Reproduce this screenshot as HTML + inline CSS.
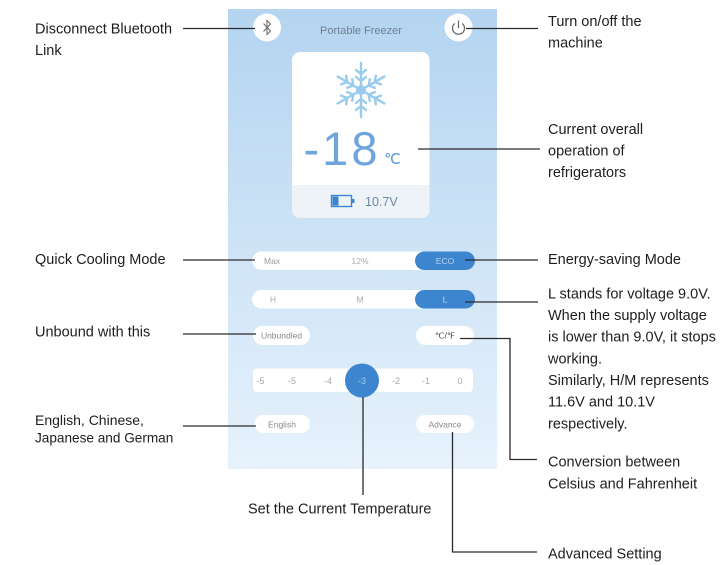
<!DOCTYPE html>
<html>
<head>
<meta charset="utf-8">
<style>
  html,body{margin:0;padding:0;background:#fff;}
  svg{display:block;}
  .lbl{font-family:"Liberation Sans",Arial,sans-serif;font-size:14.5px;fill:#1e1e1e;}
  .ui{font-family:"Liberation Sans",Arial,sans-serif;}
</style>
</head>
<body>
<svg width="728" height="565" viewBox="0 0 728 565" xmlns="http://www.w3.org/2000/svg">
  <defs>
    <linearGradient id="bg" x1="0" y1="0" x2="0" y2="1">
      <stop offset="0" stop-color="#b4d4f0"/>
      <stop offset="0.5" stop-color="#cde3f6"/>
      <stop offset="1" stop-color="#e7f2fc"/>
    </linearGradient>
  </defs>
  <rect x="0" y="0" width="728" height="565" fill="#fff"/>

  <!-- phone panel -->
  <rect x="228" y="9" width="269" height="460" fill="url(#bg)"/>

  <!-- header -->
  <circle cx="267" cy="27.5" r="14" fill="#fff"/>
  <g stroke="#666" stroke-width="1" fill="none">
    <path d="M263.5 23.5 L270.5 31 L267 34.5 L267 20.5 L270.5 24 L263.5 31.5"/>
  </g>
  <circle cx="458.5" cy="27.5" r="14" fill="#fff"/>
  <g stroke="#666" stroke-width="1.2" fill="none">
    <path d="M454.8 23.5 A6 6 0 1 0 462.2 23.5"/>
    <line x1="458.5" y1="20.5" x2="458.5" y2="28"/>
  </g>
  <text x="361" y="34" text-anchor="middle" class="ui" font-size="11" fill="#6d7f92">Portable Freezer</text>

  <!-- card -->
  <rect x="292" y="52" width="137.5" height="166" rx="8" fill="#fff"/>
  <path d="M292 185 H429.5 V210 A8 8 0 0 1 421.5 218 H300 A8 8 0 0 1 292 210 Z" fill="#eef3f8"/>

  <!-- snowflake -->
  <g stroke="#98cbee" stroke-width="2.4" stroke-linecap="round" fill="none" transform="translate(361,90)">
    <g id="arm">
      <line x1="0" y1="0" x2="0" y2="-27"/>
      <path d="M-5 -13 L0 -9 L5 -13"/>
      <path d="M-5 -20 L0 -16 L5 -20"/>
    </g>
    <use href="#arm" transform="rotate(60)"/>
    <use href="#arm" transform="rotate(120)"/>
    <use href="#arm" transform="rotate(180)"/>
    <use href="#arm" transform="rotate(240)"/>
    <use href="#arm" transform="rotate(300)"/>
  </g>
  <circle cx="361" cy="90" r="5" fill="#98cbee"/>

  <!-- temperature -->
  <text x="342" y="165" text-anchor="middle" class="ui" font-size="47" fill="#6ea6dc" letter-spacing="3">-18</text>
  <text x="384" y="164" class="ui" font-size="15" fill="#5d9bd6">℃</text>

  <!-- battery -->
  <rect x="331.5" y="195.5" width="20" height="11" fill="none" stroke="#3d86cf" stroke-width="1.4"/>
  <rect x="332.5" y="196.5" width="6" height="9" fill="#3d86cf"/>
  <rect x="352" y="199" width="2.5" height="4" fill="#3d86cf"/>
  <text x="365" y="206" class="ui" font-size="12.5" fill="#6d88a6">10.7V</text>

  <!-- row 1 -->
  <rect x="252" y="251.5" width="223" height="18.5" rx="9.25" fill="#fff"/>
  <rect x="415" y="251.5" width="60" height="18.5" rx="9.25" fill="#3d86cf"/>
  <text x="264" y="264" class="ui" font-size="8.5" fill="#999">Max</text>
  <text x="360" y="264" text-anchor="middle" class="ui" font-size="8.5" fill="#aaa">12%</text>
  <text x="445" y="264" text-anchor="middle" class="ui" font-size="8.5" fill="#b9d3ee">ECO</text>

  <!-- row 2 -->
  <rect x="252" y="290" width="223" height="18.5" rx="9.25" fill="#fff"/>
  <rect x="415" y="290" width="60" height="18.5" rx="9.25" fill="#3d86cf"/>
  <text x="273" y="302.5" text-anchor="middle" class="ui" font-size="8.5" fill="#aaa">H</text>
  <text x="360" y="302.5" text-anchor="middle" class="ui" font-size="8.5" fill="#aaa">M</text>
  <text x="445" y="302.5" text-anchor="middle" class="ui" font-size="8.5" fill="#b9d3ee">L</text>

  <!-- row 3 -->
  <rect x="253" y="326" width="57" height="19" rx="9.5" fill="#fff"/>
  <text x="281.5" y="338.5" text-anchor="middle" class="ui" font-size="8.5" fill="#888">Unbundled</text>
  <rect x="416" y="326" width="58" height="19" rx="9.5" fill="#fff"/>
  <text x="445" y="338.5" text-anchor="middle" class="ui" font-size="8.5" fill="#444">℃/℉</text>

  <!-- row 4 slider -->
  <rect x="253" y="368.5" width="220" height="23.5" rx="4" fill="#fff"/>
  <g class="ui" font-size="9" fill="#aaa" text-anchor="middle">
    <text x="260.5" y="384">-5</text>
    <text x="292" y="384">-5</text>
    <text x="328" y="384">-4</text>
    <text x="396" y="384">-2</text>
    <text x="426" y="384">-1</text>
    <text x="460" y="384">0</text>
  </g>
  <circle cx="362" cy="380.5" r="17" fill="#3d86cf"/>
  <text x="362" y="384" text-anchor="middle" class="ui" font-size="9" fill="#a8c9ec">-3</text>

  <!-- row 5 -->
  <rect x="254.5" y="415" width="55.5" height="18" rx="9" fill="#fff"/>
  <text x="282" y="427.5" text-anchor="middle" class="ui" font-size="8.5" fill="#888">English</text>
  <rect x="416" y="415" width="58" height="18" rx="9" fill="#fff"/>
  <text x="445" y="427.5" text-anchor="middle" class="ui" font-size="8.5" fill="#888">Advance</text>

  <!-- leader lines -->
  <g stroke="#2a2a2a" stroke-width="1.3" fill="none">
    <line x1="183" y1="28.5" x2="255" y2="28.5"/>
    <line x1="466" y1="28.5" x2="538" y2="28.5"/>
    <line x1="418" y1="149" x2="540" y2="149"/>
    <line x1="183" y1="260" x2="255" y2="260"/>
    <line x1="465" y1="260" x2="538" y2="260"/>
    <line x1="465" y1="302" x2="538" y2="302"/>
    <line x1="183" y1="334" x2="256" y2="334"/>
    <polyline points="460,338.5 510,338.5 510,459.5 537,459.5"/>
    <line x1="183" y1="426" x2="256" y2="426"/>
    <line x1="363" y1="397" x2="363" y2="495"/>
    <polyline points="452.5,432 452.5,552 537,552"/>
  </g>

  <!-- left labels -->
  <text x="35" y="33.3" class="lbl">Disconnect Bluetooth</text>
  <text x="35" y="55" class="lbl">Link</text>
  <text x="35" y="264" class="lbl">Quick Cooling Mode</text>
  <text x="35" y="336.5" class="lbl">Unbound with this</text>
  <text x="35" y="425" class="lbl" font-size="14" fill="#262626" style="font-size:14px">English, Chinese,</text>
  <text x="35" y="442.5" class="lbl" fill="#262626" style="font-size:13.6px">Japanese and German</text>

  <!-- right labels -->
  <text x="548" y="26" class="lbl">Turn on/off the</text>
  <text x="548" y="47.5" class="lbl">machine</text>
  <text x="548" y="134" class="lbl">Current overall</text>
  <text x="548" y="155.5" class="lbl">operation of</text>
  <text x="548" y="177" class="lbl">refrigerators</text>
  <text x="548" y="264" class="lbl">Energy-saving Mode</text>
  <text x="548" y="298.3" class="lbl">L stands for voltage 9.0V.</text>
  <text x="548" y="320" class="lbl">When the supply voltage</text>
  <text x="548" y="341.7" class="lbl">is lower than 9.0V, it stops</text>
  <text x="548" y="363.3" class="lbl">working.</text>
  <text x="548" y="385" class="lbl">Similarly, H/M represents</text>
  <text x="548" y="406.7" class="lbl">11.6V and 10.1V</text>
  <text x="548" y="428.3" class="lbl">respectively.</text>
  <text x="548" y="466.7" class="lbl">Conversion between</text>
  <text x="548" y="488.3" class="lbl">Celsius and Fahrenheit</text>
  <text x="248" y="513.3" class="lbl">Set the Current Temperature</text>
  <text x="548" y="558.3" class="lbl">Advanced Setting</text>
</svg>
</body>
</html>
